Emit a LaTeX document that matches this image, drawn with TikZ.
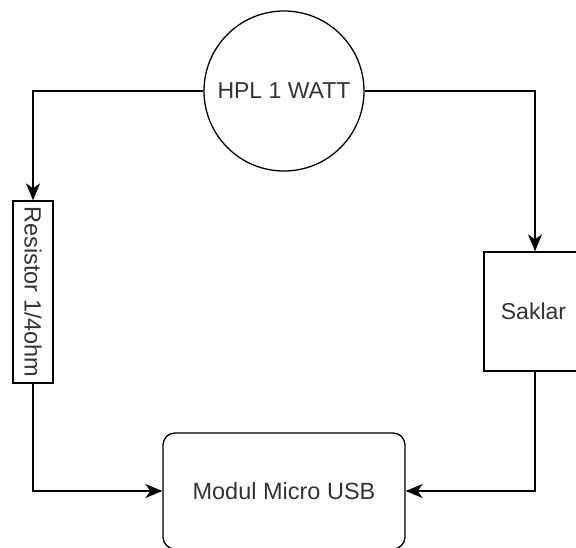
\documentclass[tikz,border=0pt]{standalone}
\usepackage{fontspec}
\setmainfont{Liberation Sans}
\usetikzlibrary{arrows.meta}
\definecolor{txt}{HTML}{333333}
\begin{document}
\begin{tikzpicture}[x=1pt,y=-1pt,
  shp/.style={draw=black,line width=1.3pt,text=txt,inner sep=0pt,font=\fontsize{23}{27}\selectfont},
  conn/.style={draw=black,line width=1.3pt,-{Stealth[length=17pt,width=14pt,inset=5pt]}}]
\useasboundingbox (0,0) rectangle (576,548);
\node[shp,circle,minimum size=160pt] (hpl) at (284,91) {HPL 1 WATT};
\node[shp,rectangle,minimum width=40pt,minimum height=182pt] (res) at (33,292) {};
\node[text=txt,rotate=-90,inner sep=0pt,font=\fontsize{23.5}{27}\selectfont] (restxt) at (res.center) {Resistor 1/4ohm};
\node[shp,rectangle,minimum width=102pt,minimum height=119pt] (sak) at (535,311.5) {\hspace*{-3pt}Saklar};
\node[shp,rectangle,rounded corners=12pt,minimum width=242pt,minimum height=116pt,font=\fontsize{23.5}{27}\selectfont] (mod) at (284,491) {Modul Micro USB};
\draw[conn] (hpl.west) -| (res.north);
\draw[conn] (hpl.east) -| (sak.north);
\draw[conn] (res.south) |- (mod.west);
\draw[conn] (sak.south) |- (mod.east);
\end{tikzpicture}
\end{document}
